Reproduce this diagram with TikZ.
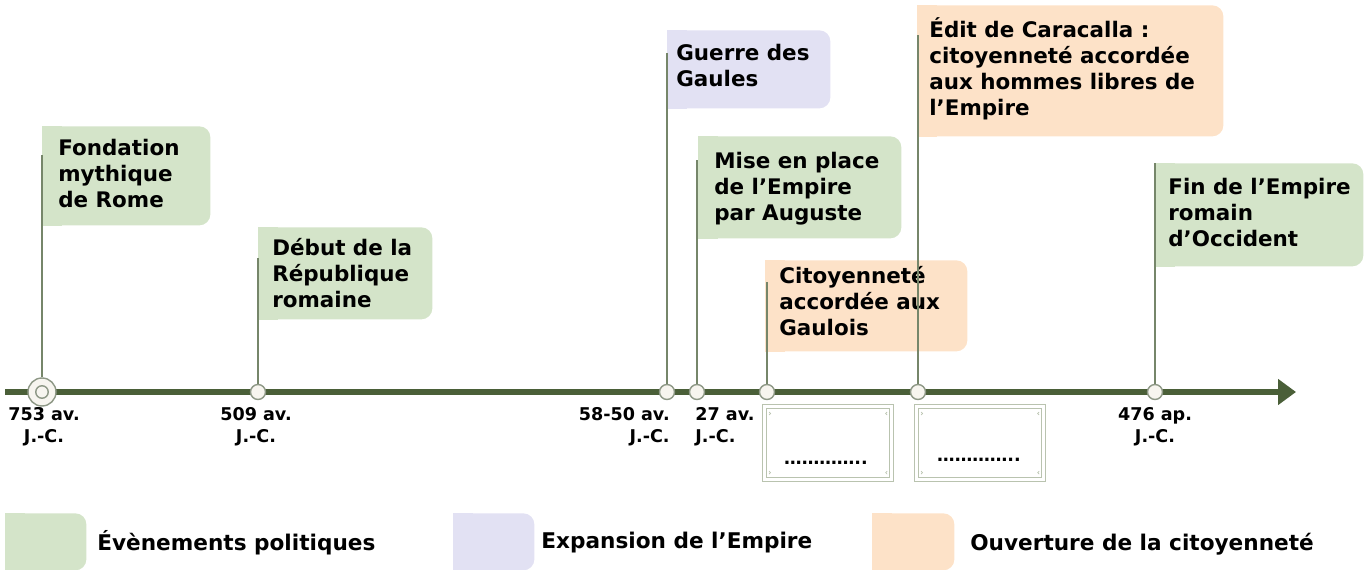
\documentclass[tikz,border=0pt]{standalone}
\usepackage{fontspec}
\setmainfont{DejaVu Sans}
\usetikzlibrary{arrows.meta,calc}
\pgfdeclarelayer{bg}
\pgfsetlayers{bg,main}
\definecolor{cgreen}{HTML}{D4E4C9}
\definecolor{clav}{HTML}{E2E1F3}
\definecolor{cpeach}{HTML}{FDE2C8}
\definecolor{ctime}{HTML}{4A5F38}
\definecolor{cvline}{HTML}{76866A}
\definecolor{cdotdraw}{HTML}{8E9886}
\definecolor{cdotfill}{HTML}{F7F5EF}
\definecolor{cframe}{HTML}{B9C3AF}
\newcommand\firstrule{\rule{0pt}{12pt}}
\newcommand\daterule{\rule{0pt}{10pt}}
% name, x1, y1, x2, y2, colour
\newcommand\evbox[6]{%
  \node[evbox, fill=#6, minimum width={(#4-#2)*0.02cm}, minimum height={(#5-#3)*0.02cm}] (#1) at (#2,#3) {};
  \begin{pgfonlayer}{bg}\fill[#6] (#1.north west) rectangle ($(#1.south west)+(20,0)$);\end{pgfonlayer}}
\begin{document}
\begin{tikzpicture}[x=0.02cm,y=-0.02cm,
  evbox/.style={rectangle, rounded corners=0.22cm, anchor=north west, inner sep=0pt, draw=none},
  evtext/.style={anchor=north west, inner sep=0pt, align=left, font=\bfseries\fontsize{12.2}{14.9}\selectfont},
  datetext/.style={inner sep=0pt, font=\bfseries\fontsize{10}{12.3}\selectfont},
  legtext/.style={anchor=base west, inner sep=0pt, font=\bfseries\fontsize{12.3}{14.9}\selectfont},
  dot/.style={circle, draw=cdotdraw, fill=cdotfill, line width=0.8pt, minimum size=0.3cm, inner sep=0pt},
  vl/.style={draw=cvline, line width=1.1pt},
  tl/.style={draw=ctime, line width=3.4pt, -{Triangle[length=10.2pt,width=14.2pt]}},
  frame/.style={rectangle, draw=cframe, line width=0.7pt, double=white, double distance=1.8pt, anchor=north west, inner sep=0pt, minimum width=2.54cm, minimum height=1.46cm},
  curl/.style={draw=cframe, line width=0.4pt},
  dotstext/.style={anchor=base, inner sep=0pt, font=\bfseries\fontsize{10}{12}\selectfont}
]
\useasboundingbox (0,0) rectangle (1365,570);

% event boxes
\evbox{b753}{42}{126}{210}{225}{cgreen}
\evbox{b509}{258}{227}{432}{319}{cgreen}
\evbox{b58}{667}{30}{830}{108}{clav}
\evbox{b27}{698}{136}{901}{238}{cgreen}
\evbox{b14}{765}{260}{967}{351}{cpeach}
\evbox{b212}{917}{5}{1223}{136}{cpeach}
\evbox{b476}{1155}{163}{1363}{266}{cgreen}

\node[evtext] (t753) at (58,134) {\firstrule Fondation\\mythique\\de Rome};
\node[evtext] (t509) at (272,234) {\firstrule Début de la\\République\\romaine};
\node[evtext] (t58) at (676,39) {\firstrule Guerre des\\Gaules};
\node[evtext] (t27) at (714,147) {\firstrule Mise en place\\de l’Empire\\par Auguste};
\node[evtext] (t14) at (779,262) {\firstrule Citoyenneté\\accordée aux\\Gaulois};
\node[evtext] (t212) at (929,16) {\firstrule Édit de Caracalla :\\citoyenneté accordée\\aux hommes libres de\\l’Empire};
\node[evtext] (t476) at (1168,173) {\firstrule Fin de l’Empire\\romain\\d’Occident};

% timeline
\coordinate (ts) at (5,392);
\coordinate (te) at (1296,392);
\draw[tl] (ts) -- (te);

% dots
\node[dot, minimum size=0.56cm] (c753) at (42,392) {};
\node[dot, minimum size=0.25cm] (c753i) at (42,392) {};
\node[dot] (c509) at (258,392) {};
\node[dot] (c58) at (667,392) {};
\node[dot] (c27) at (697,392) {};
\node[dot] (c14) at (767,392) {};
\node[dot] (c212) at (918,392) {};
\node[dot] (c476) at (1155,392) {};

% connectors
\coordinate (v753) at (42,155);
\coordinate (v509) at (258,258);
\coordinate (v58) at (667,53);
\coordinate (v27) at (697,160);
\coordinate (v14) at (767,282);
\coordinate (v212) at (918,35);
\coordinate (v476) at (1155,163);
\draw[vl] (c753) -- (v753);
\draw[vl] (c509) -- (v509);
\draw[vl] (c58) -- (v58);
\draw[vl] (c27) -- (v27);
\draw[vl] (c14) -- (v14);
\draw[vl] (c212) -- (v212);
\draw[vl] (c476) -- (v476);

% dates
\node[datetext, anchor=north, align=center] (d753) at (44,403) {\daterule 753 av.\\J.-C.};
\node[datetext, anchor=north, align=center] (d509) at (256,403) {\daterule 509 av.\\J.-C.};
\node[datetext, anchor=north east, align=right] (d58) at (670,403) {\daterule 58-50 av.\\J.-C.};
\node[datetext, anchor=north west, align=left] (d27) at (695,403) {\daterule 27 av.\\J.-C.};
\node[datetext, anchor=north, align=center] (d476) at (1155,403) {\daterule 476 ap.\\J.-C.};

% placeholder frames
\node[frame] (p1) at (764,406) {};
\node[frame] (p2) at (916,406) {};
\foreach \p in {p1,p2}{
  \draw[curl] ($(\p.north west)+(5,9)$) arc (90:-90:1.5);
  \draw[curl] ($(\p.north east)+(-5,9)$) arc (90:270:1.5);
  \draw[curl] ($(\p.south west)+(5,-9)$) arc (-90:90:1.5);
  \draw[curl] ($(\p.south east)+(-5,-9)$) arc (270:90:1.5);
}
\node[dotstext] (q1) at (826,464) {…………..};
\node[dotstext] (q2) at (979,461) {…………..};

% legend
\evbox{lg}{5}{513}{86}{570}{cgreen}
\evbox{ll}{453}{513}{534}{570}{clav}
\evbox{lp}{872}{513}{954}{570}{cpeach}
\node[legtext] (lgt) at (97,550) {Évènements politiques};
\node[legtext] (llt) at (541,548) {Expansion de l’Empire};
\node[legtext] (lpt) at (970,550) {Ouverture de la citoyenneté};
\end{tikzpicture}
\end{document}
